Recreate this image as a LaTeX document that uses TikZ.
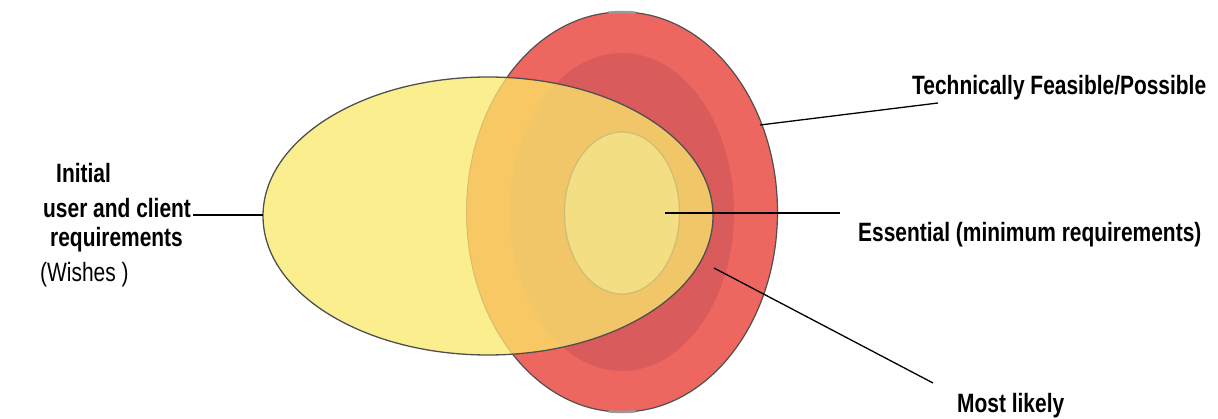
\documentclass[tikz,border=0pt]{standalone}
\usepackage{fontspec}
\setmainfont{Liberation Sans}[FakeStretch=0.79]
\definecolor{yel}{HTML}{FAEE8F}
\definecolor{redout}{HTML}{EE6660}
\definecolor{redin}{HTML}{D95B5B}
\definecolor{orout}{HTML}{F8C864}
\definecolor{orin}{HTML}{F0C668}
\definecolor{ess}{HTML}{F3DE84}
\definecolor{essline}{HTML}{CDBE75}
\definecolor{edge}{HTML}{505050}
\definecolor{faint}{HTML}{D9BC6A}
\tikzset{
  lbl/.style={inner sep=0pt, anchor=base west, font=\fontsize{26.5}{31}\selectfont\bfseries},
  lblreg/.style={inner sep=0pt, anchor=base west, font=\fontsize{26.5}{31}\selectfont},
  conn/.style={draw=black, line width=1.3pt},
}
\begin{document}
\begin{tikzpicture}[x=1pt,y=-1pt]
\useasboundingbox (0,0) rectangle (1218,419);
% red regions
\fill[redout] (622,212) ellipse [x radius=155.5, y radius=200];
\fill[redin] (622,212) ellipse [x radius=112, y radius=159];
\draw[edge, line width=1.2pt] (622,212) ellipse [x radius=155.5, y radius=200];
% grey marks at top and bottom
\draw[gray!80, line width=2.5pt] (622,212) ++(-95:155.5 and 200) arc[start angle=-95, end angle=-85, x radius=155.5, y radius=200];
\draw[gray!80, line width=2.5pt] (622,212) ++(85:155.5 and 200) arc[start angle=85, end angle=95, x radius=155.5, y radius=200];
% yellow ellipse
\fill[yel] (488,216) ellipse [x radius=225, y radius=139];
\begin{scope}
  \clip (488,216) ellipse [x radius=225, y radius=139];
  \fill[orout] (622,212) ellipse [x radius=155.5, y radius=200];
  \fill[orin] (622,212) ellipse [x radius=112, y radius=159];
  \draw[faint, line width=1pt] (622,212) ellipse [x radius=155.5, y radius=200];
\end{scope}
% essential ellipse
\filldraw[fill=ess, draw=essline, line width=1.2pt] (622,213) ellipse [x radius=57.5, y radius=81];
% yellow outline
\draw[edge, line width=1.3pt] (488,216) ellipse [x radius=225, y radius=139];

% labels
\node[lbl] (tech) at (912,95) {Technically Feasible/Possible};
\node[lbl] (essl) at (858,242) {Essential (minimum requirements)};
\node[lbl] (most) at (957,412) {Most likely};
\node[lbl] (init1) at (56,183) {Initial};
\node[lbl] (init2) at (43,218) {user and client};
\node[lbl] (init3) at (50,247) {requirements};
\node[lblreg] (init4) at (40,282) {(Wishes )};

% connector end points
\coordinate (yleft) at (263,215);
\coordinate (redpt) at (760,125);
\coordinate (techend) at (938,103);
\coordinate (esspt) at (665,213);
\coordinate (essend) at (840,213);
\coordinate (likpt) at (714,268);
\coordinate (likend) at (933,383);

\draw[conn] ([xshift=2pt,yshift=3pt]init2.base east) -- (yleft);
\draw[conn] (redpt) -- (techend);
\draw[conn] (esspt) -- (essend);
\draw[conn] (likpt) -- (likend);
\end{tikzpicture}
\end{document}
